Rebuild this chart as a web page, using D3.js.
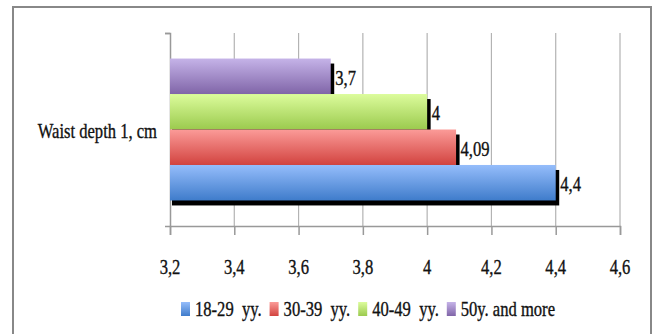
<!DOCTYPE html>
<html>
<head>
<meta charset="utf-8">
<script src="https://cdn.jsdelivr.net/npm/d3@7"></script>
<style>
  body { margin: 0; background: #fff; }
  text { font-family: "Liberation Serif", serif; fill: #111; stroke: #111; stroke-width: 0.35px; white-space: pre; }
</style>
</head>
<body>
<script>
const categories = ['Waist depth 1, cm'];
const series = ['18-29  yy.', '30-39  yy.', '40-49  yy.', '50y. and more'];
const values = [4.4, 4.09, 4.0, 3.7];
const valueLabels = ['4,4', '4,09', '4', '3,7'];
const tickValues = [3.2, 3.4, 3.6, 3.8, 4.0, 4.2, 4.4, 4.6];
const tickLabels = ['3,2', '3,4', '3,6', '3,8', '4', '4,2', '4,4', '4,6'];
const colorsTop = ['#95bdfb', '#fb9b98', '#dcfc9c', '#c5b3e8'];
const colorsBottom = ['#3f7ccb', '#d2433f', '#9bca4e', '#8065a8'];

const svg = d3.select('body').append('svg')
              .attr('width', 658)
              .attr('height', 334);

const defs = svg.append('defs');
series.forEach((s, i) => {
  const g = defs.append('linearGradient').attr('id', 'grad' + i)
                .attr('x1', 0).attr('y1', 0).attr('x2', 0).attr('y2', 1);
  g.append('stop').attr('offset', '0%').attr('stop-color', colorsTop[i]);
  g.append('stop').attr('offset', '100%').attr('stop-color', colorsBottom[i]);
});

// narrow serif look
function label(sel, x, y, txt, anchor, size) {
  return sel.append('text')
            .attr('transform', `translate(${x},${y}) scale(0.79,1)`)
            .attr('text-anchor', anchor || 'start')
            .style('font-size', (size || 21) + 'px')
            .text(txt);
}

svg.append('rect')
   .attr('x', 13).attr('y', 7).attr('width', 638).attr('height', 340)
   .style('fill', 'none').style('stroke', '#888').style('stroke-width', 2);

const x = d3.scaleLinear().domain([3.2, 4.6]).range([170, 620]);
const y0 = d3.scaleBand().domain(categories).range([33, 226]).paddingOuter(0.18);
const y1 = d3.scaleBand().domain(series.slice().reverse()).range([0, y0.bandwidth()]);

// gridlines
svg.append('g').selectAll('line').data(tickValues.slice(1)).join('line')
   .attr('x1', d => x(d)).attr('x2', d => x(d))
   .attr('y1', 33).attr('y2', 226)
   .style('stroke', '#b3b3b3').style('stroke-width', 1.2);

// x axis
const xAxis = svg.append('g').attr('transform', 'translate(0,226)')
                 .call(d3.axisBottom(x).tickValues(tickValues).tickSize(9).tickFormat(''));
xAxis.select('.domain').style('stroke', '#999').style('stroke-width', 1.5);
xAxis.selectAll('.tick line').style('stroke', '#999').style('stroke-width', 1.5);
tickValues.forEach((t, i) => label(svg, x(t), 274, tickLabels[i], 'middle'));

// y axis
const yAxis = svg.append('g').attr('transform', 'translate(170,0)')
                 .call(d3.axisLeft(d3.scaleLinear().range([226, 33])).ticks(1).tickSize(5).tickFormat(''));
yAxis.select('.domain').style('stroke', '#999').style('stroke-width', 1.5);
yAxis.selectAll('.tick line').style('stroke', '#999').style('stroke-width', 1.5);
yAxis.selectAll('.tick').filter(d => d === 0).remove();

categories.forEach(c => label(svg, 157, y0(c) + y0.bandwidth() / 2 + 8, c, 'end'));

// bars, top series first so each lower bar covers the shadow above it
const order = [3, 2, 1, 0];
const bars = svg.append('g');
order.forEach(i => {
  const by = y0(categories[0]) + y1(series[i]);
  bars.append('rect')
      .attr('x', x(3.2) + 2).attr('y', by + 5)
      .attr('width', x(values[i]) - x(3.2) + 1.5).attr('height', y1.bandwidth())
      .style('fill', '#000');
  bars.append('rect')
      .attr('x', x(3.2)).attr('y', by)
      .attr('width', x(values[i]) - x(3.2)).attr('height', y1.bandwidth())
      .style('fill', `url(#grad${i})`);
  label(svg, x(values[i]) + 4.5, by + y1.bandwidth() / 2 + 8.5, valueLabels[i]);
});

// legend
let lx = 181;
series.forEach((s, i) => {
  svg.append('rect').attr('x', lx).attr('y', 302).attr('width', 9).attr('height', 14)
     .style('fill', `url(#grad${i})`);
  const t = label(svg, lx + 14, 316, s);
  lx += 14 + t.node().getComputedTextLength() * 0.79 + 8;
});
</script>
</body>
</html>
